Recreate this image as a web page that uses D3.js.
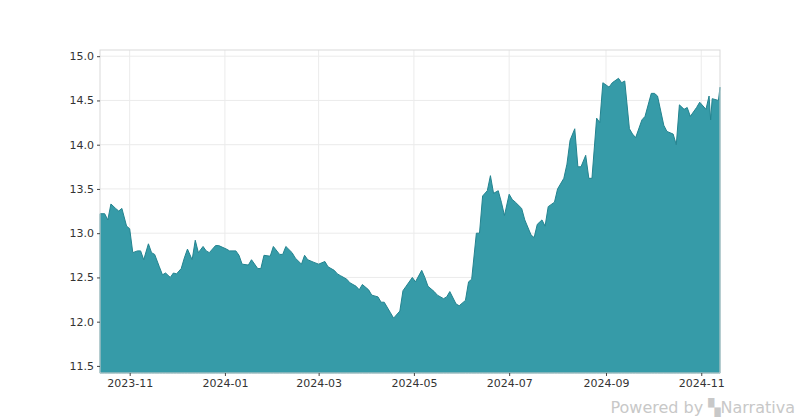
<!DOCTYPE html>
<html><head><meta charset="utf-8">
<script src="https://cdn.jsdelivr.net/npm/d3@7"></script>
<style>body{margin:0;background:#fff;font-family:"DejaVu Sans",sans-serif}</style>
</head><body><svg id="chart" width="800" height="420"></svg>
<script>
const dates = ["2023-10-13","2023-10-16","2023-10-18","2023-10-20","2023-10-23","2023-10-25","2023-10-27","2023-10-30","2023-11-01","2023-11-03","2023-11-06","2023-11-08","2023-11-10","2023-11-13","2023-11-15","2023-11-17","2023-11-20","2023-11-22","2023-11-24","2023-11-27","2023-11-29","2023-12-01","2023-12-04","2023-12-06","2023-12-08","2023-12-11","2023-12-13","2023-12-15","2023-12-18","2023-12-20","2023-12-22","2023-12-26","2023-12-28","2024-01-02","2024-01-04","2024-01-08","2024-01-10","2024-01-12","2024-01-16","2024-01-18","2024-01-22","2024-01-24","2024-01-26","2024-01-30","2024-02-01","2024-02-05","2024-02-07","2024-02-09","2024-02-13","2024-02-15","2024-02-19","2024-02-21","2024-02-23","2024-02-27","2024-03-01","2024-03-05","2024-03-07","2024-03-11","2024-03-13","2024-03-15","2024-03-19","2024-03-21","2024-03-25","2024-03-27","2024-03-29","2024-04-02","2024-04-04","2024-04-08","2024-04-10","2024-04-12","2024-04-16","2024-04-18","2024-04-22","2024-04-24","2024-04-26","2024-04-30","2024-05-02","2024-05-06","2024-05-08","2024-05-10","2024-05-14","2024-05-16","2024-05-20","2024-05-22","2024-05-24","2024-05-28","2024-05-30","2024-06-03","2024-06-05","2024-06-07","2024-06-10","2024-06-12","2024-06-14","2024-06-17","2024-06-19","2024-06-21","2024-06-24","2024-06-26","2024-06-28","2024-07-01","2024-07-03","2024-07-05","2024-07-09","2024-07-11","2024-07-15","2024-07-17","2024-07-19","2024-07-22","2024-07-24","2024-07-26","2024-07-30","2024-08-01","2024-08-05","2024-08-07","2024-08-09","2024-08-12","2024-08-14","2024-08-16","2024-08-19","2024-08-21","2024-08-23","2024-08-26","2024-08-28","2024-08-30","2024-09-03","2024-09-05","2024-09-09","2024-09-11","2024-09-13","2024-09-16","2024-09-18","2024-09-20","2024-09-24","2024-09-26","2024-09-30","2024-10-02","2024-10-04","2024-10-08","2024-10-10","2024-10-14","2024-10-16","2024-10-18","2024-10-21","2024-10-23","2024-10-25","2024-10-29","2024-10-31","2024-11-04","2024-11-06","2024-11-07","2024-11-08","2024-11-12","2024-11-13"];
const values = [13.22,13.22,13.15,13.33,13.28,13.25,13.28,13.08,13.05,12.78,12.80,12.80,12.70,12.88,12.78,12.76,12.62,12.53,12.55,12.50,12.55,12.54,12.60,12.72,12.82,12.70,12.92,12.78,12.85,12.80,12.78,12.86,12.86,12.82,12.80,12.80,12.75,12.65,12.64,12.70,12.60,12.60,12.75,12.74,12.85,12.76,12.76,12.85,12.78,12.72,12.65,12.75,12.70,12.67,12.65,12.68,12.62,12.58,12.54,12.52,12.48,12.44,12.40,12.36,12.42,12.36,12.30,12.28,12.22,12.22,12.10,12.04,12.12,12.35,12.40,12.50,12.45,12.58,12.50,12.40,12.34,12.30,12.26,12.28,12.34,12.20,12.18,12.24,12.45,12.48,13.00,13.00,13.42,13.48,13.65,13.45,13.48,13.35,13.20,13.44,13.38,13.35,13.28,13.15,12.98,12.95,13.10,13.15,13.08,13.30,13.35,13.50,13.62,13.78,14.05,14.18,13.75,13.75,13.88,13.62,13.62,14.30,14.25,14.70,14.65,14.70,14.75,14.70,14.72,14.18,14.12,14.08,14.28,14.32,14.58,14.58,14.55,14.22,14.15,14.12,14.00,14.45,14.40,14.42,14.32,14.42,14.48,14.40,14.55,14.28,14.52,14.50,14.65];
const yTicks = [11.5,12.0,12.5,13.0,13.5,14.0,14.5,15.0];
const xTicks = ["2023-11-01","2024-01-01","2024-03-01","2024-05-01","2024-07-01","2024-09-01","2024-11-01"];

const parse = d3.timeParse("%Y-%m-%d");
const data = dates.map((d, i) => ({date: parse(d), value: values[i]}));

const margin = {left: 100, right: 80, top: 50, bottom: 47};
const width = 800, height = 420;
const svg = d3.select("#chart");

const x = d3.scaleTime()
  .domain([parse("2023-10-13"), parse("2024-11-13")])
  .range([margin.left, width - margin.right]);
const y = d3.scaleLinear()
  .domain([11.42, 15.07])
  .range([height - margin.bottom, margin.top]);

// grid
svg.append("g").selectAll("line").data(yTicks).enter().append("line")
  .attr("x1", margin.left).attr("x2", width - margin.right)
  .attr("y1", d => y(d)).attr("y2", d => y(d))
  .attr("stroke", "#ebebeb");
svg.append("g").selectAll("line").data(xTicks).enter().append("line")
  .attr("x1", d => x(parse(d))).attr("x2", d => x(parse(d)))
  .attr("y1", margin.top).attr("y2", height - margin.bottom)
  .attr("stroke", "#ebebeb");

const area = d3.area()
  .x(d => x(d.date)).y0(y(11.42)).y1(d => y(d.value));
svg.append("path").datum(data).attr("d", area)
  .attr("fill", "#369ba8")
  .attr("stroke", "#23838f").attr("stroke-width", 1);

svg.append("rect")
  .attr("x", margin.left).attr("y", margin.top)
  .attr("width", width - margin.left - margin.right)
  .attr("height", height - margin.top - margin.bottom)
  .attr("fill", "none").attr("stroke", "#d9d9d9");

const yAxis = svg.append("g").attr("transform", "translate(" + margin.left + ",0)")
  .call(d3.axisLeft(y).tickValues(yTicks).tickFormat(d3.format(".1f")).tickSize(3));
const xAxis = svg.append("g").attr("transform", "translate(0," + (height - margin.bottom) + ")")
  .call(d3.axisBottom(x).tickValues(xTicks.map(parse)).tickFormat(d3.timeFormat("%Y-%m")).tickSize(3));
[xAxis, yAxis].forEach(a => {
  a.select(".domain").remove();
  a.selectAll("line").attr("stroke", "#444");
  a.selectAll("text").attr("font-size", 11).attr("fill", "#333")
    .attr("font-family", "DejaVu Sans");
});

svg.append("text").attr("x", 795).attr("y", 413).attr("text-anchor", "end")
  .attr("font-size", 16).attr("fill", "#c8c8c8").attr("font-family", "DejaVu Sans")
  .text("Powered by ▚Narrativa");
</script></body></html>
